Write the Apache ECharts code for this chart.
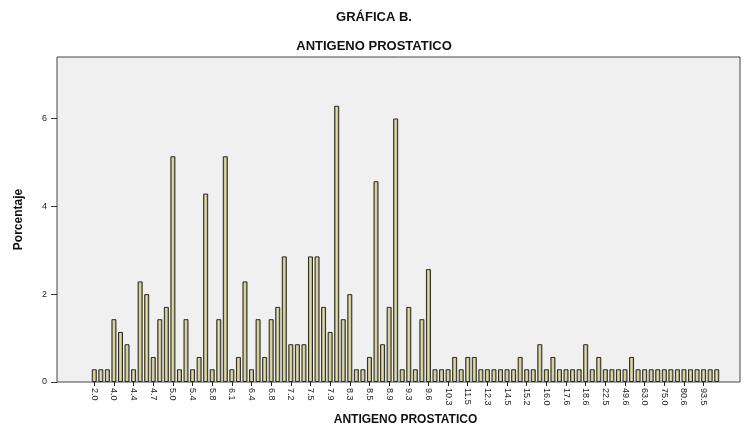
<!DOCTYPE html>
<html>
<head>
<meta charset="utf-8">
<script src="https://cdn.jsdelivr.net/npm/echarts@6/dist/echarts.min.js"></script>
<style>
html,body{margin:0;padding:0;background:#fff;}
#chart{width:748px;height:430px;}
</style>
</head>
<body>
<div id="chart"></div>
<script>
// Categories (distinct PSA values); only every third one is labelled in the chart
const categories = [
  "2.0","3.0","3.6","4.0","4.1","4.2","4.4","4.5","4.6","4.7","4.8","4.9","5.0","5.1","5.2","5.4","5.5","5.6","5.8",
  "5.9","6.0","6.1","6.2","6.3","6.4","6.5","6.6","6.8","6.9","7.0","7.2","7.3","7.4","7.5","7.6","7.7","7.9","8.0",
  "8.1","8.3","8.4","8.45","8.5","8.6","8.7","8.9","9.0","9.1","9.3","9.4","9.5","9.6","9.8","10.0","10.3","10.7","11.0",
  "11.5","11.8","12.0","12.3","13.0","13.7","14.5","14.8","15.0","15.2","15.5","15.8","16.0","16.6","17.0","17.6","17.9","18.0","18.6","19.7","21.0",
  "22.5","27.0","40.0","49.6","55.0","60.0","63.0","67.0","70.0","75.0","76.0","80.0","80.6","84.0","90.0","93.5","95.0","100.0"
];
// Porcentaje for each category
const percentages = [
  0.29,0.29,0.29,1.43,1.14,0.86,0.29,2.29,2.00,0.57,1.43,1.71,5.14,0.29,1.43,0.29,0.57,4.29,0.29,
  1.43,5.14,0.29,0.57,2.29,0.29,1.43,0.57,1.43,1.71,2.86,0.86,0.86,0.86,2.86,2.86,1.71,1.14,6.29,
  1.43,2.00,0.29,0.29,0.57,4.57,0.86,1.71,6.00,0.29,1.71,0.29,1.43,2.57,0.29,0.29,0.29,0.57,0.29,
  0.57,0.57,0.29,0.29,0.29,0.29,0.29,0.29,0.57,0.29,0.29,0.86,0.29,0.57,0.29,0.29,0.29,0.29,0.86,0.29,0.57,
  0.29,0.29,0.29,0.29,0.57,0.29,0.29,0.29,0.29,0.29,0.29,0.29,0.29,0.29,0.29,0.29,0.29,0.29
];
const yTicks = [0, 2, 4, 6];

const chart = echarts.init(document.getElementById('chart'), null, {renderer: 'canvas'});
const FONT = '"Liberation Sans", Arial, sans-serif';
chart.setOption({
  animation: false,
  backgroundColor: '#ffffff',
  textStyle: {fontFamily: FONT},
  title: [
    {text: 'GRÁFICA B.', left: 'center', top: 6,
     textStyle: {fontSize: 13, fontWeight: 'bold', color: '#111', fontFamily: FONT}},
    {text: 'ANTIGENO PROSTATICO', left: 'center', top: 35,
     textStyle: {fontSize: 13, fontWeight: 'bold', color: '#111', fontFamily: FONT}}
  ],
  grid: [
    {left: 57, right: 8, top: 57, bottom: 48, show: true, backgroundColor: '#f0f0f0',
     borderColor: '#444', borderWidth: 1, outerBoundsMode: 'none', containLabel: false},
    {left: 91, right: 28, top: 57, bottom: 48, outerBoundsMode: 'none', containLabel: false}
  ],
  xAxis: [
    {gridIndex: 0, type: 'value', show: false, min: 0, max: 1},
    {gridIndex: 1, type: 'category', data: categories, boundaryGap: true,
     axisLine: {show: false},
     axisTick: {show: true, interval: 2, alignWithLabel: true, length: 4, lineStyle: {color: '#222'}},
     axisLabel: {interval: 2, rotate: -90, fontSize: 9, color: '#222', margin: 6, fontFamily: FONT},
     name: 'ANTIGENO PROSTATICO', nameLocation: 'middle', nameGap: 32,
     nameTextStyle: {fontSize: 12, fontWeight: 'bold', color: '#111', fontFamily: FONT}},
  ],
  yAxis: [
    {gridIndex: 0, type: 'value', min: 0, max: 7.4, interval: 2,
     splitLine: {show: false}, axisLine: {show: false},
     axisTick: {show: true, length: 6, customValues: yTicks, lineStyle: {color: '#333'}},
     axisLabel: {fontSize: 9, color: '#222', margin: 10, customValues: yTicks, fontFamily: FONT},
     name: 'Porcentaje', nameLocation: 'middle', nameGap: 32,
     nameTextStyle: {fontSize: 12, fontWeight: 'bold', color: '#111', fontFamily: FONT}},
    {gridIndex: 1, type: 'value', min: 0, max: 7.4, show: false}
  ],
  series: [{
    type: 'bar', xAxisIndex: 1, yAxisIndex: 1, data: percentages, barWidth: 5,
    itemStyle: {
      color: new echarts.graphic.LinearGradient(0, 0, 1, 0, [
        {offset: 0, color: '#85805a'},
        {offset: 0.45, color: '#e4dfa8'},
        {offset: 0.6, color: '#d4cf96'},
        {offset: 1, color: '#7a7550'}
      ]),
      borderColor: '#2a2a2a', borderWidth: 1
    }
  }]
});
</script>
</body>
</html>
